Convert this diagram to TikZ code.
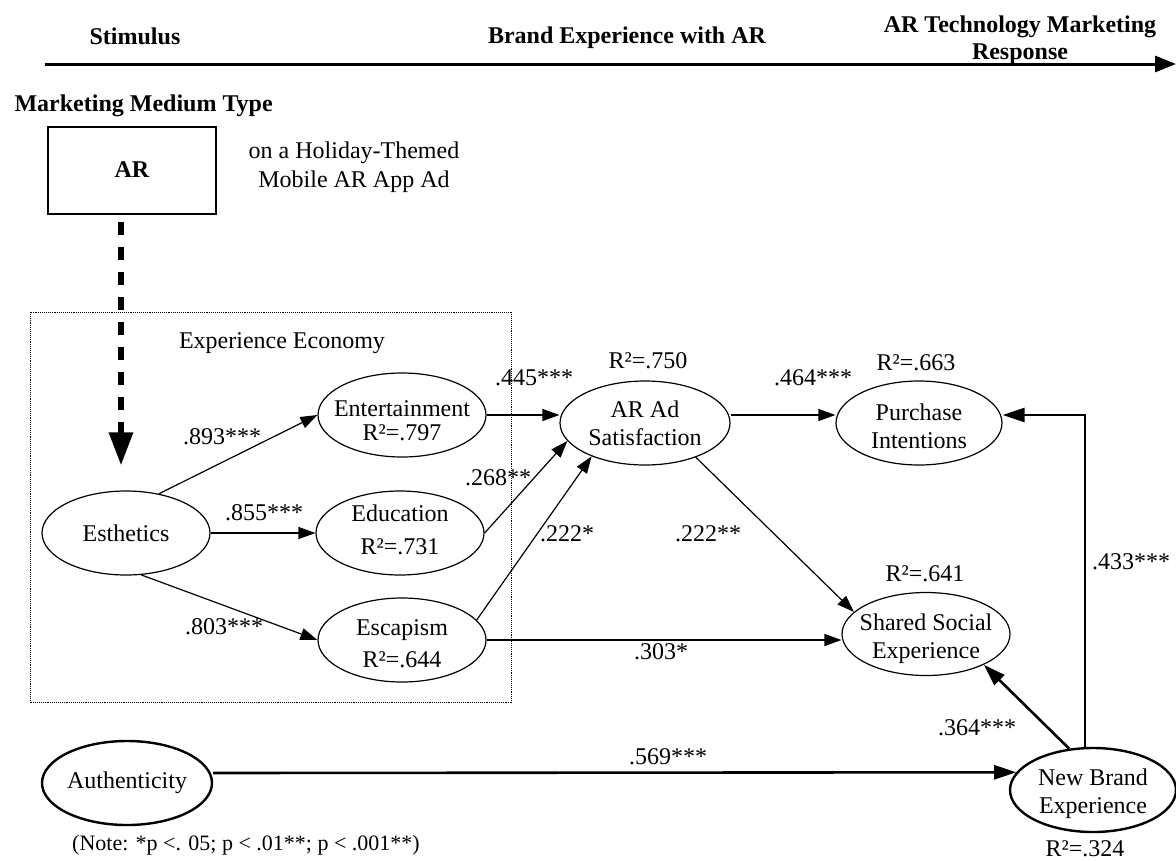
\documentclass[tikz,border=0pt]{standalone}
\usepackage{fontspec}
\setmainfont{Liberation Serif}
\usetikzlibrary{arrows.meta,shapes.geometric}

\tikzset{
  construct/.style 2 args={draw, ellipse, line width=1.2pt, inner sep=0pt, minimum width=168pt, minimum height=84pt,
    label={[align=center, yshift=#2]center:#1}},
  boldconstruct/.style 2 args={construct={#1}{#2}, line width=2.4pt},
  effect/.style={line width=1.2pt, -{Triangle[length=17pt,width=12pt]}},
  boldeffect/.style={line width=2.6pt, -{Triangle[length=22pt,width=14pt]}},
  headline/.style={font=\fontsize{24}{27}\selectfont\bfseries, align=center},
}

\begin{document}
\begin{tikzpicture}[x=1pt, y=-1pt, font=\fontsize{24}{28}\selectfont]
  \useasboundingbox (0,0) rectangle (1176,860);

  % phases
  \node [headline] (stimulus) at (135,36) {Stimulus};
  \node [headline] (brandexp) at (627,38) {Brand Experience with AR};
  \node [headline] (response) at (1020,40) {AR Technology Marketing\\Response};
  \coordinate (timestart) at (45,64);
  \coordinate (timeend) at (1176,64);
  \draw [line width=3pt, -{Triangle[length=21pt,width=16pt]}] (timestart) -- (timeend);

  % stimulus
  \node [headline, anchor=west] (mediumtype) at (11,106) {Marketing Medium Type};
  \node [draw, line width=2pt, minimum width=168pt, minimum height=87pt, font=\fontsize{24}{28}\selectfont\bfseries] (arbox) at (132,170) {AR};
  \node [align=center, font=\fontsize{24}{29}\selectfont] (adtype) at (354,167) {on a Holiday-Themed\\Mobile AR App Ad};

  \draw [densely dotted, line width=0.9pt] (30,312) rectangle (511,702);
  \node (economy) at (282,343) {Experience Economy};

  % constructs
  \node [construct={Esthetics}{0pt}] (es) at (126,533) {};
  \node [construct={Entertainment\\[-4pt]R²=.797}{-6pt}] (ent) at (402,415) {};
  \node [construct={Education\\[5pt]R²=.731}{3pt}] (edu) at (400,533) {};
  \node [construct={Escapism\\[4pt]R²=.644}{-4pt}] (esc) at (402,640) {};
  \node [construct={AR Ad\\Satisfaction}{0pt}, minimum width=170pt] (ar) at (645,423) {};
  \node [construct={Purchase\\Intentions}{-3pt}, minimum width=166pt] (pur) at (919,423) {};
  \node [construct={Shared Social\\Experience}{-5pt}, minimum height=83pt] (shared) at (926,634) {};
  \node [boldconstruct={Authenticity}{0pt}, minimum width=170pt] (auth) at (127,783) {};
  \node [boldconstruct={New Brand\\Experience}{-4pt}, minimum width=166pt, minimum height=84pt] (nbe) at (1093,790) {};

  \node (r750) at (648,361) {R²=.750};
  \node (r663) at (916,363) {R²=.663};
  \node (r641) at (925,574) {R²=.641};
  \node (r324) at (1085,849) {R²=.324};

  % paths
  \draw [line width=6pt, dash pattern=on 13pt off 12pt, shorten <=7pt, shorten >=25pt,
    -{Triangle[length=33pt,width=23pt]}] ([xshift=-11pt]arbox.south) -- ([xshift=-5pt]es.north);
  \draw [effect] (es.50) -- (ent.west);
  \draw [effect] (es.east) -- (edu.west);
  \draw [effect] (es.-70) -- (esc.west);
  \draw [effect] (ent.east) -- (ent.east -| ar.west);
  \draw [effect] (edu.east) -- (ar.193);
  \draw [effect] (esc.15) -- (ar.212);
  \draw [effect] ([yshift=8pt]ar.east) -- ([yshift=8pt]pur.west);
  \draw [effect] (ar.-34) -- (shared.163);
  \draw [effect] (esc.east) -- (esc.east -| shared.west);
  \draw [boldeffect] ([yshift=10pt]auth.east) -- (nbe.167);
  \draw [boldeffect] (nbe.120) -- (shared.-28);
  \draw [boldeffect] ([xshift=-8pt]nbe.north) |- ([yshift=8pt]pur.east);

  \node (c893) at (222,437) {.893***};
  \node (c855) at (264,513) {.855***};
  \node (c803) at (224,627) {.803***};
  \node (c445) at (534,378) {.445***};
  \node (c268) at (498,478) {.268**};
  \node (c222a) at (567,534) {.222*};
  \node (c464) at (813,378) {.464***};
  \node (c222b) at (708,534) {.222**};
  \node (c303) at (661,652) {.303*};
  \node (c569) at (668,757) {.569***};
  \node (c364) at (977,728) {.364***};
  \node (c433) at (1131,562) {.433***};

  \node [font=\fontsize{22}{26}\selectfont] (note) at (246,845) {(Note: *p <. 05; p < .01**; p < .001**)};
\end{tikzpicture}
\end{document}
